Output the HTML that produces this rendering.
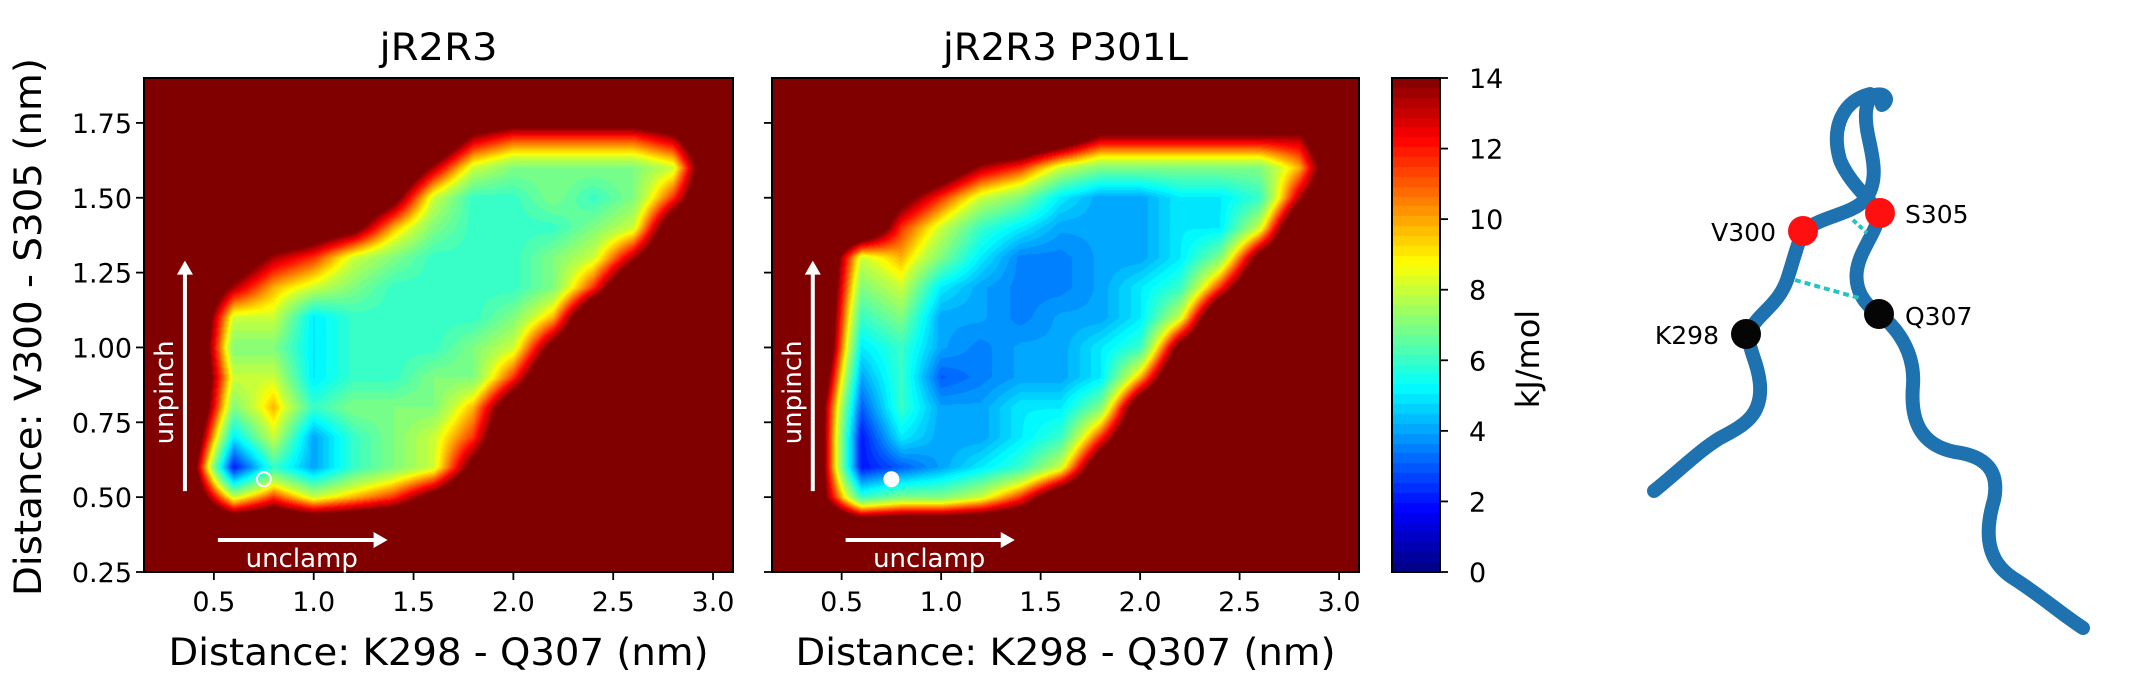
<!DOCTYPE html>
<html><head><meta charset="utf-8">
<style>
html,body{margin:0;padding:0;background:#fff;}
#wrap{position:relative;width:2152px;height:700px;overflow:hidden;font-family:"DejaVu Sans","Liberation Sans",sans-serif;}
canvas{position:absolute;}
svg{position:absolute;left:0;top:0;}
</style></head>
<body>
<div id="wrap">
<canvas id="c1"></canvas>
<canvas id="c2"></canvas>
<canvas id="cb"></canvas>
<svg id="ov" width="2152" height="700"></svg>
</div>
<script>
// ---- data ----
const gridX = [0.2,0.4,0.6,0.8,1.0,1.2,1.4,1.6,1.8,2.0,2.2,2.4,2.6,2.8,3.0];
const gridY = [1.8,1.7,1.6,1.5,1.4,1.3,1.2,1.1,1.0,0.9,0.8,0.7,0.6,0.5,0.4,0.3];
const energyWT = [
[14,14,14,14,14,14,14,14,14,14,14,14,14,14,14],
[14,14,14,14,14,14,14,14,11,10,10,10,10,11,14],
[14,14,14,14,14,14,14,11,8,7,7,7,7,8,14],
[14,14,14,14,14,14,12,8,6,6,7,6,7,10,14],
[14,14,14,14,13,12,9,7,6,6,6,7,8,13,14],
[14,14,13,11,10,8,7,6,6,6,7,8,11,14,14],
[14,14,11,9,8,7,6,6,6,6,7,10,14,14,14],
[14,14,8,8,5,6,6,6,6,7,9,14,14,14,14],
[14,14,7,7,5,6,6,6,7,8,12,14,14,14,14],
[14,14,8,8,5,6,6,7,7,10,14,14,14,14,14],
[14,14,7,9,6,7,7,7,9,13,14,14,14,14,14],
[14,13,5,8,4,6,7,8,10,14,14,14,14,14,14],
[14,12,2,6,4,6,7,8,12,14,14,14,14,14,14],
[14,13,8,10,8,9,10,12,14,14,14,14,14,14,14],
[14,14,14,14,14,14,14,14,14,14,14,14,14,14,14],
[14,14,14,14,14,14,14,14,14,14,14,14,14,14,14]];
const energyMut = [
[14,14,14,14,14,14,14,14,14,14,14,14,14,14,14],
[14,14,14,14,14,14,14,13,11,11,11,11,11,11,14],
[14,14,14,14,13,11,10,8,7,7,7,7,7,9,14],
[14,14,14,12,10,8,7,5,4,4,5,5,6,11,14],
[14,14,14,10,8,6,5,4,4,4,5,5,8,14,14],
[14,14,8,9,7,5,3.5,3.5,4,4,5,7,12,14,14],
[14,14,7,8,5,4,3.5,3.5,4,5,6,10,14,14,14],
[14,14,6,7,4,4,3.5,4,4,5,8,14,14,14,14],
[14,14,5,6,4,3.5,4,4,5,6,12,14,14,14,14],
[14,13,4,6,3,3.5,4,4,5,9,14,14,14,14,14],
[14,12,3,6,4,4,5,5,7,13,14,14,14,14,14],
[14,12,2,5,4,4,5,6,10,14,14,14,14,14,14],
[14,12,2,3,4,5,6,8,13,14,14,14,14,14,14],
[14,12,6,7,7,8,10,13,14,14,14,14,14,14,14],
[14,14,14,14,14,14,14,14,14,14,14,14,14,14,14],
[14,14,14,14,14,14,14,14,14,14,14,14,14,14,14]];
const xTicks = [0.5,1.0,1.5,2.0,2.5,3.0];
const xTickLabels = ["0.5","1.0","1.5","2.0","2.5","3.0"];
const yTicks = [0.25,0.5,0.75,1.0,1.25,1.5,1.75];
const yTickLabels = ["0.25","0.50","0.75","1.00","1.25","1.50","1.75"];
const cbTicks = [0,2,4,6,8,10,12,14];
const minimumPoint = [0.75,0.56];

// ---- layout ----
const XMIN=0.15, XMAX=3.10, YMIN=0.25, YMAX=1.90, VMAX=14;
const panels=[{L:144,R:733,T:78,B:572,data:energyWT,title:"jR2R3",tw:118,cv:'c1',filled:false,ylab:true},
              {L:772,R:1359,T:78,B:572,data:energyMut,title:"jR2R3 P301L",tw:245,cv:'c2',filled:true,ylab:false}];
const CB={L:1392,R:1440,T:78,B:572};
const NS="http://www.w3.org/2000/svg";
const ov=document.getElementById('ov');
function mk(tag,attrs,parent){const e=document.createElementNS(NS,tag);for(const k in attrs)e.setAttribute(k,attrs[k]);(parent||ov).appendChild(e);return e;}
function jet(v){let t=Math.max(0,Math.min(1,v/VMAX));t=Math.min(Math.floor(t*50)/50+0.01,1);
 const c=x=>Math.round(255*Math.max(0,Math.min(1,x)));
 return [c(1.5-Math.abs(4*t-3)),c(1.5-Math.abs(4*t-2)),c(1.5-Math.abs(4*t-1))];}
function sharpen(v){return v<8?v:Math.min(14,8+(v-8)*1.8);}
function sample(data,x,y){
 const gx=(x-gridX[0])/(gridX[1]-gridX[0]);const gy=(gridY[0]-y)/(gridY[0]-gridY[1]);
 const nx=gridX.length,ny=gridY.length;
 const cx=Math.max(0,Math.min(nx-1,gx)),cy=Math.max(0,Math.min(ny-1,gy));
 const i0=Math.min(nx-2,Math.floor(cx)),j0=Math.min(ny-2,Math.floor(cy));
 const fx=cx-i0,fy=cy-j0;
 let v=data[j0][i0]*(1-fx)*(1-fy)+data[j0][i0+1]*fx*(1-fy)+data[j0+1][i0]*(1-fx)*fy+data[j0+1][i0+1]*fx*fy;
 if(gx<0||gx>nx-1||gy<0||gy>ny-1)v=14;
 return sharpen(v);}

panels.forEach((p,pi)=>{
 const sx=v=>p.L+(v-XMIN)/(XMAX-XMIN)*(p.R-p.L);
 const sy=v=>p.B-(v-YMIN)/(YMAX-YMIN)*(p.B-p.T);
 const cv=document.getElementById(p.cv);const W=p.R-p.L,H=p.B-p.T;
 cv.width=W;cv.height=H;cv.style.left=p.L+'px';cv.style.top=p.T+'px';
 const ctx=cv.getContext('2d');const img=ctx.createImageData(W,H);
 for(let j=0;j<H;j++)for(let i=0;i<W;i++){
  const x=XMIN+(i+0.5)/W*(XMAX-XMIN),y=YMAX-(j+0.5)/H*(YMAX-YMIN);
  const c=jet(sample(p.data,x,y));const k=(j*W+i)*4;
  img.data[k]=c[0];img.data[k+1]=c[1];img.data[k+2]=c[2];img.data[k+3]=255;}
 ctx.putImageData(img,0,0);
 const fr=mk('rect',{x:p.L,y:p.T,width:W,height:H,fill:'none',stroke:'#000','stroke-width':2});
 
 xTicks.forEach((t,i)=>{const x=sx(t);
  const l=mk('line',{x1:x,x2:x,y1:p.B,y2:p.B+8,stroke:'#000','stroke-width':1.8});
  
  const tx=mk('text',{x:x,y:p.B+39,'font-size':27,'text-anchor':'middle',fill:'#000'});tx.textContent=xTickLabels[i];
  });
 yTicks.forEach((t,i)=>{const y=sy(t);
  const l=mk('line',{x1:p.L-8,x2:p.L,y1:y,y2:y,stroke:'#000','stroke-width':1.8});
  
  if(p.ylab){const tx=mk('text',{x:p.L-12,y:y+10,'font-size':27,'text-anchor':'end',fill:'#000'});tx.textContent=yTickLabels[i];
  }});
 const ti=mk('text',{x:(p.L+p.R)/2,y:60,'font-size':37,'text-anchor':'middle',fill:'#000',textLength:p.tw,lengthAdjust:'spacingAndGlyphs'});ti.textContent=p.title;
 
 const xl=mk('text',{x:(p.L+p.R)/2,y:665,'font-size':37,'text-anchor':'middle',fill:'#000',textLength:540,lengthAdjust:'spacingAndGlyphs'});xl.textContent='Distance: K298 - Q307 (nm)';
 
 const ax=sx(0.355),ay0=sy(0.52),ay1=sy(1.29);
 const va=mk('g',{});
 mk('line',{x1:ax,x2:ax,y1:ay0,y2:ay1+8,stroke:'#fff','stroke-width':4},va);
 mk('polygon',{points:`${ax-8},${ay1+14} ${ax},${ay1} ${ax+8},${ay1+14}`,fill:'#fff'},va);
 const hy=sy(0.357),hx0=sx(0.52),hx1=sx(1.37);
 const ha=mk('g',{});
 mk('line',{x1:hx0,x2:hx1-8,y1:hy,y2:hy,stroke:'#fff','stroke-width':4},ha);
 mk('polygon',{points:`${hx1-14},${hy-8} ${hx1},${hy} ${hx1-14},${hy+8}`,fill:'#fff'},ha);
 const ut=mk('text',{x:sx(0.94),y:p.B-5,'font-size':26,'text-anchor':'middle',fill:'#fff'});ut.textContent='unclamp';
 
 const px=sx(0.355)-12,py=sy(0.85);
 const pt=mk('text',{x:px,y:py,'font-size':26,'text-anchor':'middle',fill:'#fff',transform:`rotate(-90 ${px} ${py})`});pt.textContent='unpinch';
 
 const mc=p.filled?mk('circle',{cx:sx(minimumPoint[0]),cy:sy(minimumPoint[1]),r:8,fill:'#fff'}):mk('circle',{cx:sx(minimumPoint[0]),cy:sy(minimumPoint[1]),r:7,fill:'none',stroke:'#fff','stroke-width':2});
 
});
const yl=mk('text',{x:41,y:327,'font-size':37,'text-anchor':'middle',fill:'#000',transform:'rotate(-90 41 327)',textLength:538,lengthAdjust:'spacingAndGlyphs'});yl.textContent='Distance: V300 - S305 (nm)';


(function(){const cv=document.getElementById('cb');const W=CB.R-CB.L,H=CB.B-CB.T;cv.width=W;cv.height=H;cv.style.left=CB.L+'px';cv.style.top=CB.T+'px';
 const ctx=cv.getContext('2d');for(let j=0;j<H;j++){const c=jet(VMAX*(1-(j+0.5)/H));ctx.fillStyle=`rgb(${c[0]},${c[1]},${c[2]})`;ctx.fillRect(0,j,W,1);}
 const f=mk('rect',{x:CB.L,y:CB.T,width:W,height:H,fill:'none',stroke:'#000','stroke-width':2});
 cbTicks.forEach(t=>{const y=CB.B-t/VMAX*H;
  const l=mk('line',{x1:CB.R,x2:CB.R+8,y1:y,y2:y,stroke:'#000','stroke-width':1.8});
  const tx=mk('text',{x:CB.R+29,y:y+10,'font-size':27,fill:'#000'});tx.textContent=String(t);});
 const kl=mk('text',{x:1539,y:359,'font-size':32,'text-anchor':'middle',fill:'#000',transform:'rotate(-90 1539 359)'});kl.textContent='kJ/mol';
 })();

(function(){const g=mk('g',{});
 const tube='M1654,491 C1680,470 1700,450 1720,438 C1745,425 1762,415 1760,385 C1758,360 1745,345 1750,330 C1760,312 1778,305 1787,280 C1793,262 1797,245 1803,231 C1825,215 1850,215 1865,200 C1880,180 1872,155 1868,135 C1864,115 1865,100 1875,95 C1885,92 1890,100 1882,105';
 const tube2='M1870,94 C1845,100 1830,125 1840,160 C1848,180 1865,195 1880,213 C1875,235 1860,250 1857,270 C1854,290 1865,305 1879,314 C1900,330 1915,355 1913,385 C1910,420 1920,445 1955,452 C1985,456 2000,470 1994,500 C1985,530 1985,560 2013,578 C2040,595 2060,613 2083,628';
 mk('path',{d:tube,fill:'none',stroke:'#1f72b0','stroke-width':14,'stroke-linecap':'round'},g);
 mk('path',{d:tube2,fill:'none',stroke:'#1f72b0','stroke-width':14,'stroke-linecap':'round'},g);
 mk('line',{x1:1795,y1:280,x2:1859,y2:298,stroke:'#22c4c4','stroke-width':4,'stroke-dasharray':'6,4'},g);
 mk('line',{x1:1853,y1:220,x2:1867,y2:233,stroke:'#22c4c4','stroke-width':4,'stroke-dasharray':'5,3'},g);
 [[1803,231,'#ff1010'],[1880,213,'#ff1010'],[1746,334,'#050505'],[1879,314,'#050505']].forEach(s=>{const c=mk('circle',{cx:s[0],cy:s[1],r:15,fill:s[2]},g);});
 [['V300',1776,241,'end'],['S305',1905,223,'start'],['K298',1719,344,'end'],['Q307',1905,325,'start']].forEach(l=>{const t=mk('text',{x:l[1],y:l[2],'font-size':25,'text-anchor':l[3],fill:'#000'},g);t.textContent=l[0];});
})();
</script>
</body></html>
